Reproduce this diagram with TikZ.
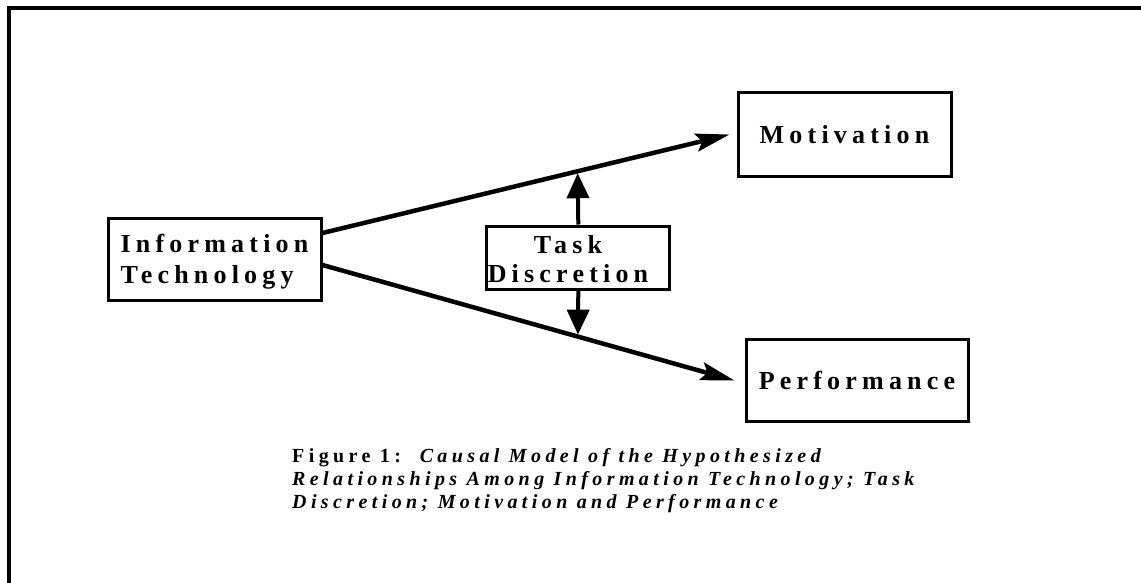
\documentclass[tikz,border=0pt]{standalone}
\usepackage{fontspec}
\setmainfont{Liberation Serif}
\newfontfamily\boxfont[LetterSpace=20]{Liberation Serif}
\newfontfamily\capfont[LetterSpace=22]{Liberation Serif}
\usetikzlibrary{arrows.meta,calc}

\begin{document}
\begin{tikzpicture}[x=1pt,y=-1pt,
  box/.style={draw,line width=3pt,inner sep=0pt,font=\boxfont\bfseries\fontsize{26}{31.5}\selectfont},
  link/.style={line width=4.5pt,-{Stealth[length=34pt,width=18pt,inset=6pt]}},
  vlink/.style={line width=4pt,-{Triangle[length=25pt,width=22pt]}}]
\useasboundingbox (0,0) rectangle (1141,582);
% outer frame
\draw[line width=4pt] (8.5,600) -- (8.5,8) -- (1160,8);

\node[box,minimum width=213pt,minimum height=82pt,align=left,text depth=0pt] (it) at (214.5,259) {Information\\Technology};
\node[box,minimum width=183pt,minimum height=63pt] (td) at (578.3,257.5) {};
\node[font=\boxfont\bfseries\fontsize{26}{29.5}\selectfont,align=center,inner sep=0pt] (tdlabel) at (568,259) {Task\\Discretion};
\node[box,minimum width=213pt,minimum height=84pt] (mot) at (844.5,134.5) {Motivation};
\node[box,minimum width=222pt,minimum height=82pt] (perf) at (857,380.5) {Performance};

\coordinate (s1) at ([yshift=26pt]it.east);
\coordinate (e1) at ([xshift=-7pt]mot.west);
\coordinate (s2) at ([yshift=-6pt]it.east);
\coordinate (e2) at ([xshift=-10pt]perf.west);
\draw[link] (s1) -- (e1);
\draw[link] (s2) -- (e2);
\draw[vlink] (td.north) -- ($(s1)!0.627!(e1)+(0,2)$);
\draw[vlink] (td.south) -- ($(s2)!0.62!(e2)+(0,-2)$);

% caption
\node[anchor=north west,inner sep=0pt,align=left,font=\capfont\bfseries\fontsize{20}{23.3}\selectfont] (cap) at (292,448)
  {Figure 1:\ \ \itshape Causal Model of the Hypothesized\\
   \itshape Relationships Among Information Technology; Task\\
   \itshape Discretion; Motivation and Performance};
\end{tikzpicture}
\end{document}
